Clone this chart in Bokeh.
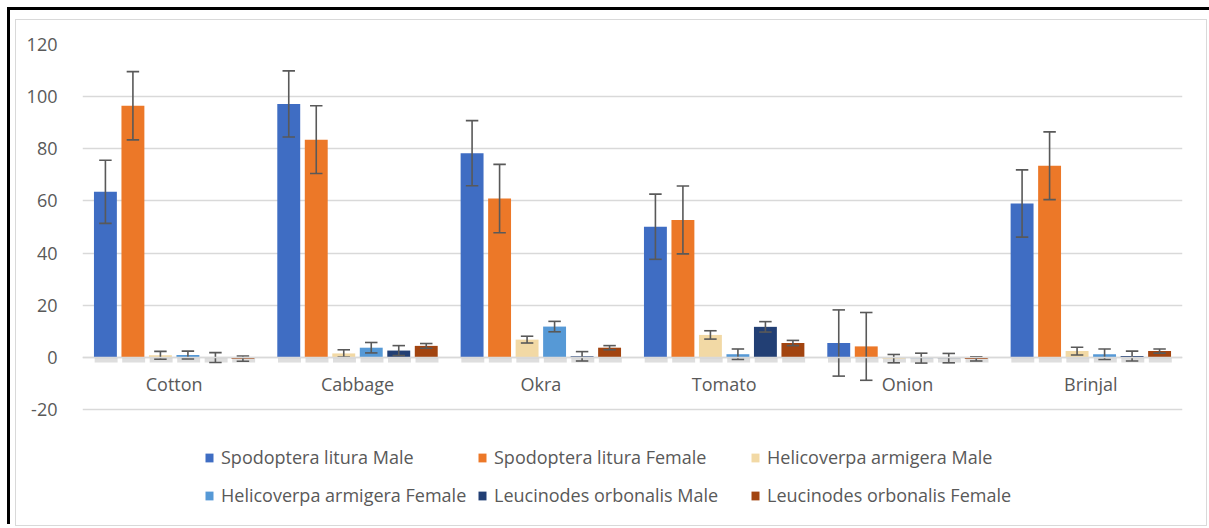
from bokeh.plotting import figure
from bokeh.models import (ColumnDataSource, FactorRange, Range1d, FixedTicker,
                          Legend, LegendItem, PrintfTickFormatter)
from bokeh.transform import dodge
from bokeh.embed import file_html
from bokeh.resources import INLINE

crops = ["Cotton", "Cabbage", "Okra", "Tomato", "Onion", "Brinjal"]
series_names = ["Spodoptera litura Male", "Spodoptera litura Female",
                "Helicoverpa armigera Male", "Helicoverpa armigera Female",
                "Leucinodes orbonalis Male", "Leucinodes orbonalis Female"]

sl_male = [63.5, 97.2, 78.3, 50.1, 5.5, 59.0]
sl_male_err = [12.1, 12.7, 12.5, 12.5, 12.7, 12.9]
sl_female = [96.5, 83.5, 60.9, 52.7, 4.2, 73.5]
sl_female_err = [13.1, 13.0, 13.1, 13.0, 13.0, 13.0]
ha_male = [0.8, 1.5, 6.8, 8.6, -0.5, 2.4]
ha_male_err = [1.5, 1.4, 1.3, 1.6, 1.6, 1.5]
ha_female = [0.9, 3.7, 11.8, 1.2, -0.3, 1.2]
ha_female_err = [1.5, 2.0, 2.0, 2.0, 1.9, 2.0]
lo_male = [-0.1, 2.6, 0.4, 11.7, -0.3, 0.5]
lo_male_err = [1.9, 1.9, 1.8, 2.0, 1.8, 1.9]
lo_female = [-0.5, 4.4, 3.7, 5.5, -0.6, 2.4]
lo_female_err = [1.0, 0.9, 0.8, 1.0, 0.8, 0.8]

y_ticks = [-20, 0, 20, 40, 60, 80, 100, 120]

values_list = [sl_male, sl_female, ha_male, ha_female, lo_male, lo_female]
errors_list = [sl_male_err, sl_female_err, ha_male_err, ha_female_err, lo_male_err, lo_female_err]
colors = ["#3F6DC3", "#EC7828", "#F2D9A5", "#5699D6", "#223F74", "#A24410"]
offsets = [-0.375, -0.225, -0.075, 0.075, 0.225, 0.375]

FONT = "Open Sans"
TXT = "#595959"
W, H = 1190, 505

# the plot frame extends below the lowest grid line to host the legend
p = figure(x_range=FactorRange(*crops, range_padding=0), y_range=Range1d(-64.5, 120),
           width=W, height=H, output_backend="svg", toolbar_location=None,
           min_border_left=66, min_border_right=24, min_border_top=24, min_border_bottom=0)
p.margin = (20, 0, 0, 16)
p.styles = {"box-shadow": "0 0 0 1px #d9d9d9, 0 -4px 0 6px white, -3px -7px 0 6px black"}
p.outline_line_color = None
p.background_fill_color = "white"
p.border_fill_color = "white"

p.xgrid.grid_line_color = None
p.ygrid.grid_line_color = "#d9d9d9"
p.ygrid.grid_line_width = 1.4

p.yaxis.ticker = FixedTicker(ticks=y_ticks)
p.yaxis.formatter = PrintfTickFormatter(format="%d")
p.yaxis.axis_line_color = None
p.yaxis.major_tick_line_color = None
p.yaxis.minor_tick_line_color = None
p.yaxis.major_label_text_font = FONT
p.yaxis.major_label_text_font_size = "18px"
p.yaxis.major_label_text_color = TXT
p.yaxis.major_label_standoff = 19

p.xaxis.fixed_location = 0
p.xaxis.axis_line_color = "#d9d9d9"
p.xaxis.axis_line_width = 1.4
p.xaxis.major_tick_line_color = None
p.xaxis.minor_tick_line_color = None
p.xaxis.major_label_text_font = FONT
p.xaxis.major_label_text_font_size = "18px"
p.xaxis.major_label_text_color = TXT
p.xaxis.major_label_standoff = 9

items = []
for name, vals, errs, col, off in zip(series_names, values_list, errors_list, colors, offsets):
    src = ColumnDataSource(dict(
        crop=crops, top=vals,
        upper=[v + e for v, e in zip(vals, errs)],
        lower=[v - e for v, e in zip(vals, errs)],
    ))
    p.vbar(x=dodge("crop", off + 0.004, range=p.x_range), top=0, bottom=-2.0, width=0.125,
           source=src, fill_color="#7a7a7a", fill_alpha=0.25, line_color=None)
    r = p.vbar(x=dodge("crop", off, range=p.x_range), top="top", bottom=0, width=0.125,
               source=src, fill_color=col, line_color=None)
    p.segment(x0=dodge("crop", off, range=p.x_range), y0="lower",
              x1=dodge("crop", off, range=p.x_range), y1="upper",
              source=src, line_color="#595959", line_width=1.6)
    for yf in ("upper", "lower"):
        p.segment(x0=dodge("crop", off - 0.034, range=p.x_range), y0=yf,
                  x1=dodge("crop", off + 0.034, range=p.x_range), y1=yf,
                  source=src, line_color="#595959", line_width=1.6)
    items.append(LegendItem(label=name, renderers=[r]))

legend = Legend(items=items, orientation="horizontal", ncols=3,
                location=(122, 16), label_text_font=FONT, label_text_font_size="18px",
                label_text_color=TXT, glyph_width=10, glyph_height=11, label_width=246,
                label_height=28, label_standoff=7, spacing=10, padding=2, margin=0,
                border_line_color=None, background_fill_alpha=0)
p.add_layout(legend, "center")

open("out.html", "w").write(file_html(p, INLINE))
